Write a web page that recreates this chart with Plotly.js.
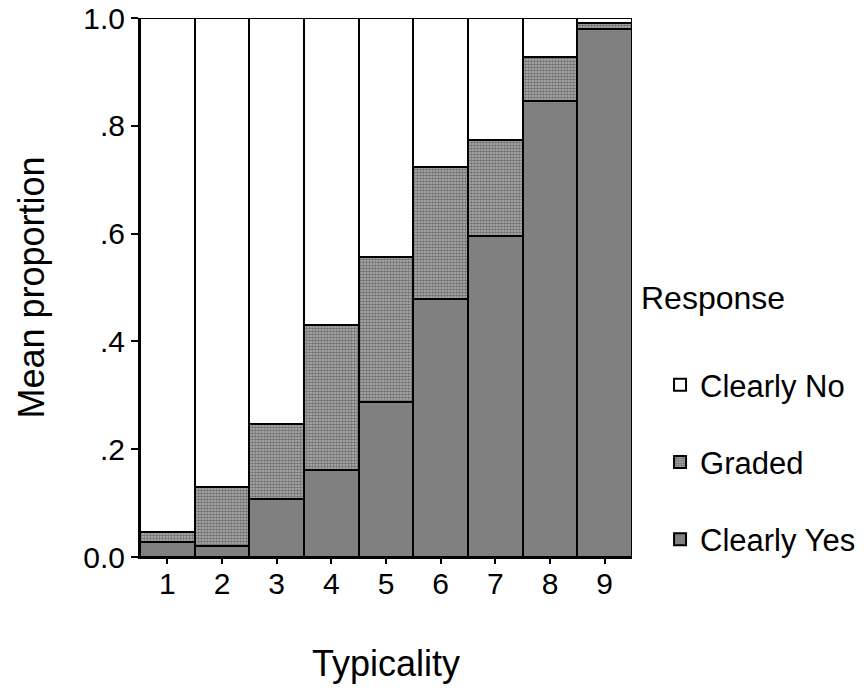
<!DOCTYPE html>
<html>
<head>
<meta charset="utf-8">
<script src="https://cdn.plot.ly/plotly-3.0.1.min.js"></script>
<style>html,body{margin:0;padding:0;background:#fff;}#chart{width:867px;height:691px;}</style>
</head>
<body>
<div id="chart"></div>
<script>
const typicality = [1, 2, 3, 4, 5, 6, 7, 8, 9];
const clearlyYes = [0.028, 0.020, 0.107, 0.161, 0.287, 0.478, 0.595, 0.846, 0.979];
const graded     = [0.018, 0.109, 0.139, 0.270, 0.269, 0.245, 0.178, 0.081, 0.011];
const clearlyNo  = [0.954, 0.871, 0.754, 0.569, 0.444, 0.277, 0.227, 0.073, 0.010];
const yTickVals = [0, 0.2, 0.4, 0.6, 0.8, 1.0];
const yTickText = ['0.0', '.2', '.4', '.6', '.8', '1.0'];
const xTickText = ['1', '2', '3', '4', '5', '6', '7', '8', '9'];

const FONT = 'Arial, Liberation Sans, sans-serif';
const outline = {color: '#000', width: 2};

const traces = [
  {type: 'bar', name: 'Clearly Yes', x: typicality, y: clearlyYes, legendgroup: 'a', legendrank: 3,
   marker: {color: '#808080', line: outline}, cliponaxis: false, hoverinfo: 'skip'},
  {type: 'bar', name: 'Graded', x: typicality, y: graded, legendgroup: 'b', legendrank: 2,
   marker: {color: '#a0a0a0', line: outline,
            pattern: {shape: '.', bgcolor: '#b6b6b6', fgcolor: '#707070', size: 3, solidity: 0.6, fillmode: 'replace'}},
   cliponaxis: false, hoverinfo: 'skip'},
  {type: 'bar', name: 'Clearly No', x: typicality, y: clearlyNo, legendgroup: 'c', legendrank: 1,
   marker: {color: '#ffffff', line: outline}, cliponaxis: false, hoverinfo: 'skip'}
];

const layout = {
  width: 867, height: 691,
  margin: {l: 140, r: 235, t: 18, b: 134, autoexpand: false},
  paper_bgcolor: '#fff', plot_bgcolor: '#fff',
  barmode: 'stack', bargap: 0,
  font: {family: FONT, color: '#000', size: 30},
  xaxis: {
    range: [0.5, 9.5], tickvals: typicality, ticktext: xTickText,
    showgrid: false, zeroline: false, showline: true, linecolor: '#000', linewidth: 2,
    ticks: 'outside', ticklen: 5, tickwidth: 2, tickcolor: '#000',
    ticklabelstandoff: -6,
    tickfont: {size: 30, family: FONT},
    title: {text: 'Typicality', font: {size: 36, family: FONT}, standoff: 52}
  },
  yaxis: {
    range: [0, 1], tickvals: yTickVals, ticktext: yTickText,
    showgrid: false, zeroline: false, showline: true, linecolor: '#000', linewidth: 2,
    ticks: 'outside', ticklen: 7, tickwidth: 2, tickcolor: '#000',
    tickfont: {size: 30, family: FONT},
    title: {text: 'Mean proportion', font: {size: 36, family: FONT}, standoff: 28}
  },
  legend: {
    x: 1.057, xanchor: 'left', y: 0.369, yanchor: 'top',
    traceorder: 'grouped', tracegroupgap: 34,
    font: {size: 31, family: FONT}, bgcolor: 'rgba(0,0,0,0)'
  },
  annotations: [{
    text: 'Response', xref: 'paper', yref: 'paper', x: 1.014, y: 0.4805,
    xanchor: 'left', yanchor: 'middle', showarrow: false,
    font: {size: 32, family: FONT, color: '#000'}
  }],
  showlegend: true
};

Plotly.newPlot('chart', traces, layout, {displayModeBar: false, staticPlot: true});
</script>
</body>
</html>
